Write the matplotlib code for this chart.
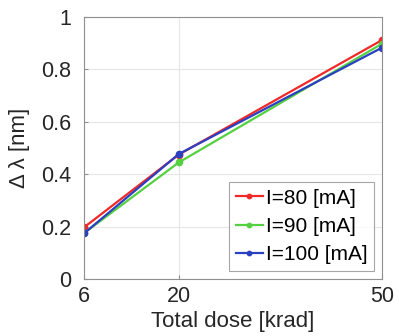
import matplotlib
matplotlib.use("Agg")
import matplotlib.pyplot as plt

plt.rcParams['font.family'] = ['Liberation Sans', 'DejaVu Sans']

dose = [6, 20, 50]
i80 = [0.197, 0.475, 0.912]
i90 = [0.175, 0.445, 0.898]
i100 = [0.174, 0.477, 0.883]
labels = ['I=80 [mA]', 'I=90 [mA]', 'I=100 [mA]']
colors = ['#f02828', '#55d040', '#2a40c0']

fig = plt.figure(figsize=(3.99, 3.36), dpi=100)
ax = fig.add_axes([84/399, 1-279/336, (382-84)/399, (279-17)/336])

for ys, lab, c in zip([i80, i90, i100], labels, colors):
    ax.plot(dose, ys, '-o', color=c, lw=1.6, ms=4.5, label=lab)

ax.set_xlim(6, 50)
ax.set_ylim(0, 1)
ax.set_xticks([6, 20, 50])
ax.set_yticks([0, 0.2, 0.4, 0.6, 0.8, 1])
ax.set_yticklabels(['0', '0.2', '0.4', '0.6', '0.8', '1'])
ax.grid(True, color='#e6e6e6', lw=0.8)
for s in ax.spines.values():
    s.set_color('#909090')
ax.tick_params(direction='in', length=3, colors='#909090', labelcolor='#262626', labelsize=15.5)
ax.tick_params(axis='y', pad=9)
ax.tick_params(axis='x', pad=5)
ax.set_xlabel('Total dose [krad]', fontsize=16, color='#262626', labelpad=3)
ax.set_ylabel('Δ λ [nm]', fontsize=16, color='#262626', labelpad=8)

leg = ax.legend(loc='lower right', fontsize=15, frameon=True, fancybox=False,
                handlelength=1.3, handletextpad=0.15, borderpad=0.3, labelspacing=0.45,
                borderaxespad=0.4, markerscale=0.7)
leg.get_frame().set_edgecolor('#909090')
leg.get_frame().set_linewidth(0.8)

fig.savefig('out.png', dpi=100)
